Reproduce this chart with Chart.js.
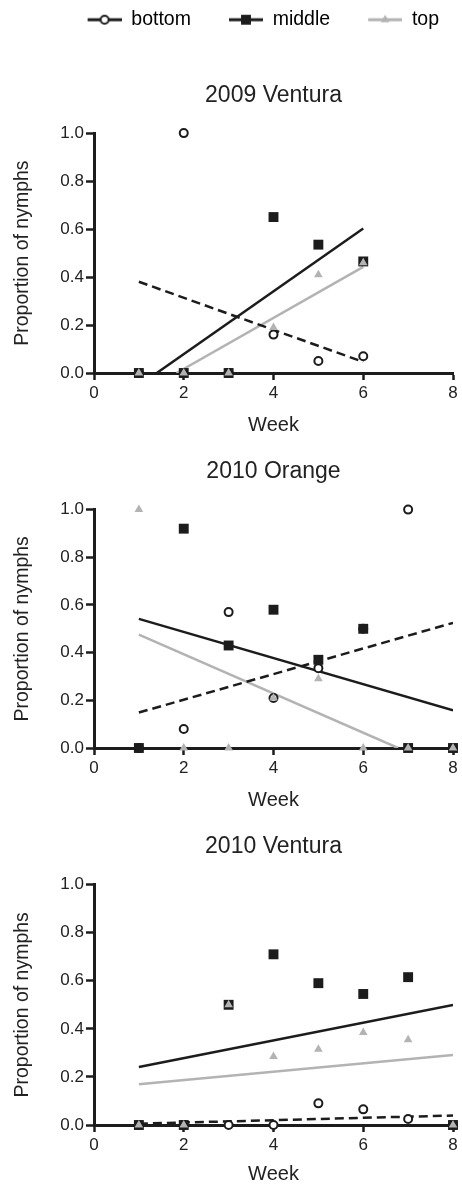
<!DOCTYPE html>
<html>
<head>
<meta charset="utf-8">
<script src="https://cdn.jsdelivr.net/npm/chart.js@4/dist/chart.umd.min.js"></script>
<style>
  html, body { margin: 0; padding: 0; background: #fff; overflow: hidden; }
  body { width: 462px; height: 1186px; position: relative; }
  canvas { position: absolute; left: 0; }
</style>
</head>
<body>
<canvas id="c1" width="462" height="444" style="top:-4px"></canvas>
<canvas id="c2" width="462" height="375" style="top:440px"></canvas>
<canvas id="c3" width="462" height="371" style="top:815px"></canvas>
<script>
var seriesNames = ['bottom', 'middle', 'top']
var xTicks = [0, 2, 4, 6, 8]
var yTicks = [0, 0.2, 0.4, 0.6, 0.8, 1.0]

// 2009 Ventura
var weeks09V = [1, 2, 3, 4, 5, 6]
var bottom09V = [0, 1.0, 0, 0.16, 0.05, 0.07]
var middle09V = [0, 0, 0, 0.65, 0.535, 0.465]
var top09V = [0, 0, 0, 0.19, 0.41, 0.46]

// 2010 Orange
var weeks10O = [1, 2, 3, 4, 5, 6, 7, 8]
var bottom10O = [0, 0.08, 0.57, 0.21, 0.335, 0.5, 1.0, 0]
var middle10O = [0, 0.92, 0.43, 0.58, 0.37, 0.5, 0, 0]
var top10O = [1.0, 0, 0, 0.21, 0.29, 0, 0, 0]

// 2010 Ventura
var weeks10V = [1, 2, 3, 4, 5, 6, 7, 8]
var bottom10V = [0, 0, 0, 0, 0.09, 0.065, 0.025, 0]
var middle10V = [0, 0, 0.5, 0.71, 0.59, 0.545, 0.615, 0]
var top10V = [0, 0, 0.5, 0.285, 0.315, 0.385, 0.355, 0]

var BLACK = '#1c1c1c'
var GRAY = '#b3b3b3'
var TEXT = '#222'
var FONT = "'Liberation Sans', Arial, Helvetica, sans-serif"
var SLOT = 58   // legend slot, the icon sits in its right 34px

Chart.defaults.font.family = FONT
Chart.defaults.color = TEXT

function points(weeks, values) {
    return weeks.map((w, i) => ({x: w, y: values[i]}))
}

// least squares line, cut where it meets the x axis like the original
function fitLine(xs, ys) {
    var n = xs.length, mx = 0, my = 0
    xs.forEach((x, i) => { mx += x; my += ys[i] })
    mx /= n; my /= n
    var sxy = 0, sxx = 0
    xs.forEach((x, i) => {
        sxy += (x - mx) * (ys[i] - my)
        sxx += (x - mx) * (x - mx)
    })
    var slope = sxy / sxx
    var b = my - slope * mx
    var x0 = xs[0], x1 = xs[n - 1]
    if (b + slope * x0 < 0) x0 = -b / slope
    if (b + slope * x1 < 0) x1 = -b / slope
    return [{x: x0, y: b + slope * x0}, {x: x1, y: b + slope * x1}]
}

var markers = {
    bottom: {pointStyle: 'circle', radius: 4, bg: '#fff', border: BLACK, bw: 2, line: BLACK, dash: [9, 5]},
    middle: {pointStyle: 'rect', radius: 7, bg: BLACK, border: BLACK, bw: 0, line: BLACK, dash: []},
    top: {pointStyle: 'triangle', radius: 5, bg: GRAY, border: GRAY, bw: 0, line: GRAY, dash: []}
}

function makeIcon(m) {
    var c = document.createElement('canvas')
    c.width = SLOT
    c.height = 14
    var g = c.getContext('2d')
    g.strokeStyle = m.line
    g.lineWidth = 3
    g.beginPath()
    g.moveTo(SLOT - 34, 7)
    g.lineTo(SLOT, 7)
    g.stroke()
    g.fillStyle = m.bg
    g.strokeStyle = m.border
    g.lineWidth = m.bw
    Chart.helpers.drawPoint(g, {pointStyle: m.pointStyle, radius: m.radius, borderWidth: m.bw, rotation: 0}, SLOT - 17, 7)
    return c
}

function drawPanel(id, title, weeks, bottom, middle, top, opts) {
    var ctx = document.getElementById(id).getContext('2d')
    var values = {bottom: bottom, middle: middle, top: top}
    var datasets = []
    // points: top drawn over middle over bottom
    var drawOrder = {top: 1, middle: 2, bottom: 3}
    seriesNames.forEach(name => {
        var m = markers[name]
        datasets.push({
            label: name,
            data: points(weeks, values[name]),
            pointStyle: m.pointStyle,
            pointRadius: m.radius,
            backgroundColor: m.bg,
            borderColor: m.border,
            borderWidth: m.bw,
            showLine: false,
            clip: false,
            order: drawOrder[name]
        })
        datasets.push({
            label: name + ' fit',
            data: fitLine(weeks, values[name]),
            showLine: true,
            pointRadius: 0,
            borderColor: m.line,
            borderWidth: 2.5,
            borderDash: m.dash,
            fill: false,
            order: 5
        })
    })

    return new Chart(ctx, {
        type: 'scatter',
        data: {datasets: datasets},
        options: {
            responsive: false,
            animation: false,
            devicePixelRatio: 1,
            events: [],
            layout: {padding: {left: 0, right: 9, top: 0, bottom: 0}},
            plugins: {
                tooltip: {enabled: false},
                legend: {
                    display: opts.legend,
                    align: 'end',
                    weight: 3000,
                    labels: {
                        usePointStyle: true,
                        pointStyleWidth: SLOT,
                        padding: 14,
                        color: TEXT,
                        font: {size: 19.5},
                        generateLabels: () => seriesNames.map((name, i) => ({
                            text: name,
                            pointStyle: makeIcon(markers[name]),
                            fillStyle: markers[name].bg,
                            strokeStyle: markers[name].border,
                            lineWidth: 0,
                            hidden: false,
                            datasetIndex: i * 2
                        }))
                    }
                },
                title: {
                    display: true,
                    text: title,
                    color: TEXT,
                    fullSize: false,
                    font: {size: 23, weight: 'normal'},
                    padding: opts.titlePadding
                }
            },
            scales: {
                x: {
                    type: 'linear',
                    min: 0,
                    max: 8,
                    afterBuildTicks: s => { s.ticks = xTicks.map(v => ({value: v})) },
                    afterFit: s => { s.height = opts.xHeight },
                    ticks: {color: TEXT, font: {size: 17}, padding: 3, maxRotation: 0},
                    grid: {drawOnChartArea: false, drawTicks: true, tickLength: 7, tickWidth: 2.5, tickColor: BLACK},
                    border: {display: true, color: BLACK, width: 3},
                    title: {display: true, text: 'Week', color: TEXT, font: {size: 20}, padding: {top: 0, bottom: opts.weekPad}}
                },
                y: {
                    type: 'linear',
                    min: 0,
                    max: 1,
                    afterBuildTicks: s => { s.ticks = yTicks.map(v => ({value: v})) },
                    afterFit: s => { s.width = 94 },
                    ticks: {color: TEXT, font: {size: 17}, padding: 2, callback: v => v.toFixed(1)},
                    grid: {drawOnChartArea: false, drawTicks: true, tickLength: 8, tickWidth: 2.5, tickColor: BLACK},
                    border: {display: true, color: BLACK, width: 3},
                    title: {display: true, text: 'Proportion of nymphs', color: TEXT, font: {size: 19.5}, padding: {top: 11, bottom: 0}}
                }
            }
        }
    })
}

drawPanel('c1', '2009 Ventura', weeks09V, bottom09V, middle09V, top09V,
    {legend: true, titlePadding: {top: 42, bottom: 24}, xHeight: 67, weekPad: 3})
drawPanel('c2', '2010 Orange', weeks10O, bottom10O, middle10O, top10O,
    {legend: false, titlePadding: {top: 18, bottom: 24}, xHeight: 67, weekPad: 3})
drawPanel('c3', '2010 Ventura', weeks10V, bottom10V, middle10V, top10V,
    {legend: false, titlePadding: {top: 18, bottom: 24}, xHeight: 61, weekPad: 0})
</script>
</body>
</html>
